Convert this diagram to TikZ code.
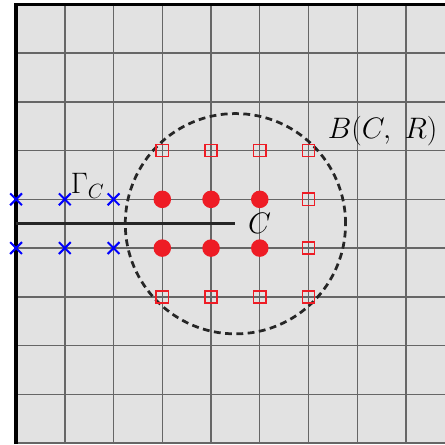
\documentclass[tikz,border=0pt]{standalone}
\usetikzlibrary{shapes.misc}
\definecolor{cellgray}{HTML}{E2E2E2}
\definecolor{gridgray}{HTML}{666666}
\definecolor{dotred}{HTML}{EE1C25}
\tikzset{
  gridline/.style={gridgray, line width=0.8pt},
  border/.style={black, line width=2.2pt},
  interior/.style={circle, fill=dotred, inner sep=0pt, minimum size=0.36cm},
  bdry/.style={rectangle, draw=dotred, line width=0.9pt, fill=none, inner sep=0pt, minimum size=0.25cm},
  ghost/.style={cross out, draw=blue, line width=1.2pt, inner sep=0pt, minimum size=0.2cm},
  crack/.style={black!85, line width=2pt},
  ball/.style={black!85, line width=1.6pt, dash pattern=on 4pt off 2.6pt},
  lbl/.style={font=\fontsize{16.5}{20}\selectfont, inner sep=1pt}
}
\begin{document}
\begin{tikzpicture}
\useasboundingbox (-0.33,-0.02) rectangle (8.8,9.09);
\fill[cellgray] (0,-0.02) rectangle (8.8,9);
\foreach \x in {1,...,8} \draw[gridline] (\x,-0.02) -- (\x,9);
\foreach \y in {0,...,8} \draw[gridline] (0,\y) -- (8.8,\y);
\draw[border] (0,-0.02) -- (0,9) -- (8.8,9);

\draw[ball] (4.5,4.5) circle (2.26);

\coordinate (cs) at (0,4.5);
\coordinate (ce) at (4.5,4.5);
\draw[crack] (cs) -- (ce);
\node[lbl, anchor=west] (lc) at (4.72,4.5) {$C$};
\node[lbl] (lg) at (1.47,5.28) {$\Gamma_C$};
\node[lbl] (lb) at (7.52,6.4) {$B(C,\ R)$};

\foreach \x in {3,4,5} {
  \node[interior] (i\x a) at (\x,5) {};
  \node[interior] (i\x b) at (\x,4) {};
}
\foreach \x in {3,4,5,6} {
  \node[bdry] (t\x) at (\x,6) {};
  \node[bdry] (u\x) at (\x,3) {};
}
\node[bdry] (r5) at (6,5) {};
\node[bdry] (r4) at (6,4) {};
\foreach \x in {0,1,2} {
  \node[ghost] (g\x a) at (\x,5) {};
  \node[ghost] (g\x b) at (\x,4) {};
}
\end{tikzpicture}
\end{document}
